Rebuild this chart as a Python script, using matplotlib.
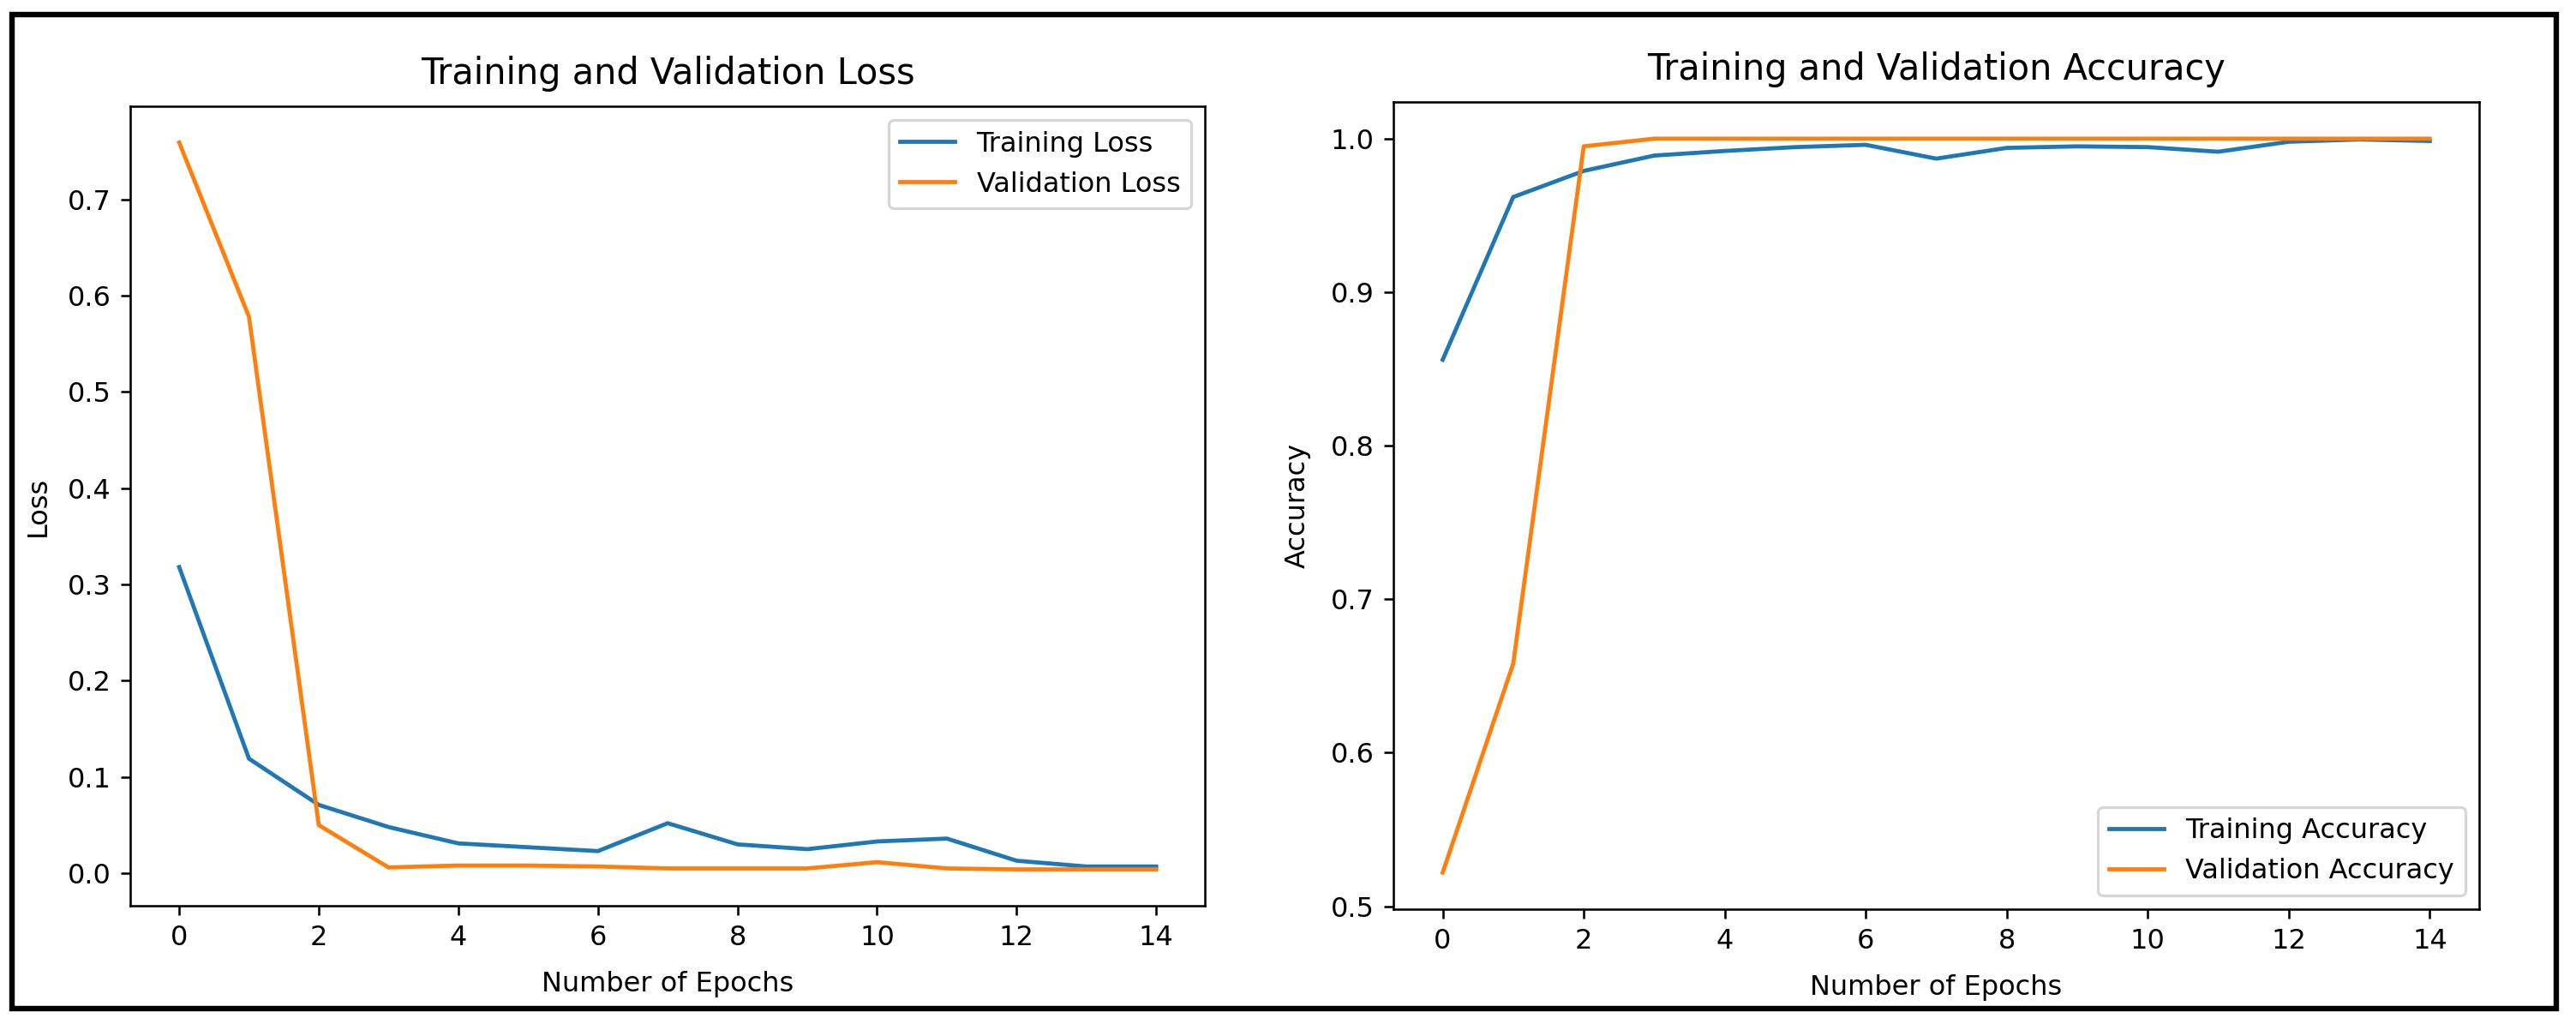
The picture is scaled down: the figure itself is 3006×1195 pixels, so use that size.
import numpy as np
import matplotlib
matplotlib.use('Agg')
import matplotlib.pyplot as plt
from matplotlib.patches import Rectangle

# Values
epochs = list(range(15))

train_loss = [0.318, 0.119, 0.071, 0.048, 0.031, 0.027, 0.023, 0.052, 0.030,
              0.025, 0.033, 0.036, 0.013, 0.007, 0.007]
val_loss = [0.759, 0.578, 0.050, 0.006, 0.008, 0.008, 0.007, 0.005, 0.005,
            0.005, 0.0115, 0.005, 0.004, 0.004, 0.004]

train_acc = [0.856, 0.962, 0.979, 0.989, 0.992, 0.9945, 0.996, 0.987, 0.994,
             0.995, 0.9945, 0.9915, 0.998, 0.9995, 0.9985]
val_acc = [0.522, 0.658, 0.995, 1.0, 1.0, 1.0, 1.0, 1.0, 1.0,
           1.0, 1.0, 1.0, 1.0, 1.0, 1.0]

dpi = 230
fig = plt.figure(figsize=(3006 / dpi, 1195 / dpi), dpi=dpi)

# Left panel: loss
ax1 = fig.add_axes([0.0506, 0.1155, 0.4172, 0.7808])
ax1.plot(epochs, train_loss, label='Training Loss')
ax1.plot(epochs, val_loss, label='Validation Loss')
ax1.set_title('Training and Validation Loss', fontsize=13, pad=8)
ax1.set_xlabel('Number of Epochs', labelpad=7)
ax1.set_ylabel('Loss', labelpad=6)
ax1.set_xticks(range(0, 15, 2))
ax1.legend(loc='upper right')

# Right panel: accuracy
ax2 = fig.add_axes([0.5409, 0.1121, 0.4215, 0.7883])
ax2.plot(epochs, train_acc, label='Training Accuracy')
ax2.plot(epochs, val_acc, label='Validation Accuracy')
ax2.set_title('Training and Validation Accuracy', fontsize=13, pad=8)
ax2.set_xlabel('Number of Epochs', labelpad=7)
ax2.set_ylabel('Accuracy', labelpad=7)
ax2.set_xticks(range(0, 15, 2))
ax2.legend(loc='lower right')

# black frame round the whole picture
fig.patches.append(Rectangle((0.00466, 0.01506), 0.9877, 0.9707,
                             transform=fig.transFigure, fill=False,
                             edgecolor='black', linewidth=2.0))

fig.savefig('out.png', dpi=dpi)
